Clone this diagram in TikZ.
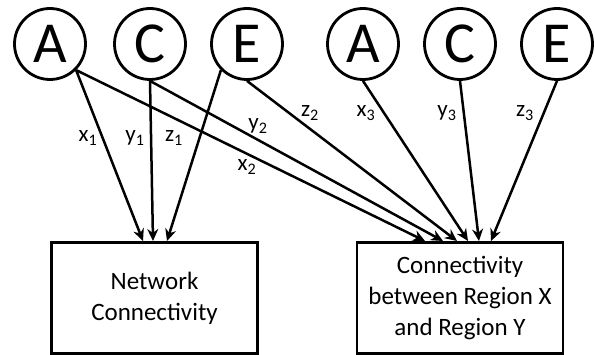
\documentclass[tikz,border=0pt]{standalone}
\usepackage{fontspec}
\setmainfont{Carlito}
\usetikzlibrary{arrows.meta}

\tikzset{
  factor/.style={circle, draw, line width=2.8pt, minimum size=71pt, inner sep=0pt,
    font=\fontsize{58}{58}\selectfont},
  outcome/.style={rectangle, draw, line width=2.8pt, minimum width=206pt, minimum height=111pt,
    inner sep=0pt, align=center, font=\fontsize{25}{31}\selectfont},
  path/.style={line width=2.5pt, -{Stealth[length=12pt,width=11pt]}},
  weight/.style={inner sep=0pt, font=\fontsize{23}{23}\selectfont}
}

\begin{document}
\begin{tikzpicture}[x=1pt, y=-1pt]
  \useasboundingbox (0,0) rectangle (595,355);

  % predictors
  \node[factor] (A1) at (50,44)  {A};
  \node[factor] (C1) at (150,44) {C};
  \node[factor] (E1) at (247,44) {E};
  \node[factor] (A2) at (363,44) {A};
  \node[factor] (C2) at (460,44) {C};
  \node[factor] (E2) at (557,44) {E};

  % outcomes
  \node[outcome] (net) at (154.5,298) {Network\\Connectivity};
  \node[outcome] (reg) at (460,298) {Connectivity\\between Region X\\and Region Y};

  % arrow ends along the top edges of the outcome boxes
  \coordinate (n1) at (143,241);
  \coordinate (n2) at (153,241);
  \coordinate (n3) at (167,241);
  \coordinate (r1) at (425,241);
  \coordinate (r2) at (443,241);
  \coordinate (r3) at (457,241);
  \coordinate (r4) at (468,241);
  \coordinate (r5) at (479,241);
  \coordinate (r6) at (491,241);

  \draw[path] (A1.south east) -- (n1);
  \draw[path] (C1.south) -- (n2);
  \draw[path] (E1.south west) -- (n3);
  \draw[path] (A1.south east) -- (r1);
  \draw[path] (C1.south) -- (r2);
  \draw[path] (E1.south) -- (r3);
  \draw[path] (A2.south) -- (r4);
  \draw[path] (C2.south) -- (r5);
  \draw[path] (E2.south) -- (r6);

  % path weights
  \node[weight] (lx1) at (88,138)  {x\textsubscript{1}};
  \node[weight] (ly1) at (135,138) {y\textsubscript{1}};
  \node[weight] (lz1) at (174,138) {z\textsubscript{1}};
  \node[weight] (ly2) at (258,126) {y\textsubscript{2}};
  \node[weight] (lx2) at (247,167) {x\textsubscript{2}};
  \node[weight] (lz2) at (310,113) {z\textsubscript{2}};
  \node[weight] (lx3) at (366,113) {x\textsubscript{3}};
  \node[weight] (ly3) at (447,113) {y\textsubscript{3}};
  \node[weight] (lz3) at (525,113) {z\textsubscript{3}};
\end{tikzpicture}
\end{document}
